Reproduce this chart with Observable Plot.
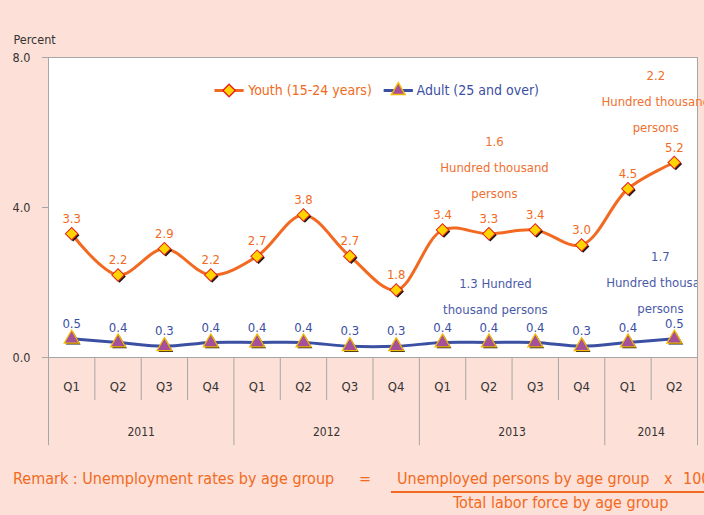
<!DOCTYPE html>
<html>
<head>
<meta charset="utf-8">
<script src="https://cdn.jsdelivr.net/npm/d3@7"></script>
<script src="https://cdn.jsdelivr.net/npm/@observablehq/plot@0.6"></script>
<style>
  html, body { margin: 0; padding: 0; background: #fde0d7; }
  #wrap { position: relative; width: 704px; height: 515px; overflow: hidden; background: #fde0d7;
          font-family: 'DejaVu Sans Condensed', 'DejaVu Sans', sans-serif; }
  #caption { position: absolute; left: 0; top: 460px; width: 704px; height: 55px; color: #f26a21; font-size: 16px; }
  #caption span { position: absolute; white-space: nowrap; line-height: 16px; }
  #frac { position: absolute; left: 391px; top: 31px; width: 320px; border-top: 2px solid #f26a21; }
</style>
</head>
<body>
<div id="wrap">
  <div id="chart"></div>
  <div id="caption">
    <span style="left:13px; top:11px;">Remark : Unemployment rates by age group</span>
    <span style="left:359px; top:11px;">=</span>
    <span style="left:397px; top:11px;">Unemployed persons by age group</span>
    <span style="left:664px; top:11px;">x</span>
    <span style="left:683px; top:11px;">100</span>
    <div id="frac"></div>
    <span style="left:453px; top:35px;">Total labor force by age group</span>
  </div>
</div>
<script>
// ---- data ----
const quarters = ["Q1","Q2","Q3","Q4","Q1","Q2","Q3","Q4","Q1","Q2","Q3","Q4","Q1","Q2"];
const years = ["2011","2012","2013","2014"];
const yearSpans = [4, 4, 4, 2];
const youth = [3.3, 2.2, 2.9, 2.2, 2.7, 3.8, 2.7, 1.8, 3.4, 3.3, 3.4, 3.0, 4.5, 5.2];
const adult = [0.5, 0.4, 0.3, 0.4, 0.4, 0.4, 0.3, 0.3, 0.4, 0.4, 0.4, 0.3, 0.4, 0.5];
const yTicks = [0, 4, 8];
const seriesNames = ["Youth (15-24 years)", "Adult (25 and over)"];
const youthNotes = [
  {at: 9.62, v: 5.07, text: "1.6\nHundred thousand\npersons"},
  {at: 13.1, v: 6.83, text: "2.2\nHundred thousand\npersons"}
];
const adultNotes = [
  {at: 9.64, v: 1.63, text: "1.3 Hundred\nthousand persons"},
  {at: 13.2, v: 2.0, text: "1.7\nHundred thousand\npersons"}
];

// ---- derived ----
const orange = "#f26a21", blue = "#3b4fa3", axisGray = "#a6a6a6", ink = "#333";
const pos = (d, i) => i + 0.5;
let start = 0;
const yearCells = years.map((y, k) => { const c = {label: y, mid: start + yearSpans[k] / 2, start}; start += yearSpans[k]; return c; });
const yearEdges = [...yearCells.map(c => c.start), quarters.length];
const quarterEdges = d3.range(1, quarters.length).filter(e => !yearEdges.includes(e));
const font = "'DejaVu Sans Condensed', 'DejaVu Sans', sans-serif";

// legend layout (in data units of the chart scales)
const legY = 7.12;
const legend = [
  {x1: 3.58, x2: 4.21, mid: 3.895, tx: 4.31, name: seriesNames[0], color: orange, sym: "square", rot: 45, fill: "#ffd400", stroke: "#e8231e"},
  {x1: 7.23, x2: 7.86, mid: 7.545, tx: 7.94, name: seriesNames[1], color: blue, sym: "triangle", rot: 0, fill: "#a4509a", stroke: "#f5b800"}
];

const chart = Plot.plot({
  width: 704,
  height: 460,
  marginTop: 57,
  marginBottom: 103,
  marginLeft: 48,
  marginRight: 7,
  style: {background: "transparent", fontFamily: font, fontSize: "12px", overflow: "visible"},
  x: {type: "linear", domain: [0, quarters.length], axis: null},
  y: {domain: [0, 8], axis: null},
  marks: [
    Plot.frame({fill: "white", stroke: axisGray}),
    // category separators
    Plot.ruleX(quarterEdges, {x: d => d, y1: 0, y2: -1.15, stroke: axisGray}),
    Plot.ruleX(yearEdges, {x: d => d, y1: 0, y2: -2.35, stroke: axisGray}),
    Plot.ruleX([0, quarters.length], {x: d => d, y1: 8, y2: 0, stroke: axisGray}),
    Plot.axisY({ticks: yTicks, tickFormat: d3.format(".1f"), tickSize: 6, tickPadding: 12, stroke: axisGray, color: ink, fontSize: 12.5, label: null}),
    Plot.text(["Percent"], {frameAnchor: "top-left", dx: -35, dy: -22, textAnchor: "start", fill: ink, fontSize: 12.5}),
    Plot.text(quarters, {x: pos, frameAnchor: "bottom", dy: 33, text: d => d, fill: ink, fontSize: 13}),
    Plot.text(yearCells, {x: "mid", frameAnchor: "bottom", dy: 78, text: "label", fill: ink, fontSize: 12}),
    // annotations
    Plot.text(youthNotes, {x: "at", y: "v", text: "text", fill: "#f07030", fontSize: 13, lineAnchor: "middle", lineHeight: 2.0, dy: -4}),
    Plot.text(adultNotes, {x: "at", y: "v", text: "text", fill: "#4a5aa8", fontSize: 13, lineAnchor: "middle", lineHeight: 2.0, dy: -4, clip: "frame"}),
    // legend
    Plot.link(legend, {x1: "x1", x2: "x2", y1: legY, y2: legY, stroke: "color", strokeWidth: 3}),
    Plot.dot(legend, {x: "mid", y: legY, symbol: "sym", rotate: "rot", r: 5, fill: "fill", stroke: "stroke"}),
    Plot.text(legend, {x: "tx", y: legY, text: "name", fill: "color", textAnchor: "start", fontSize: 14}),
    // adult series
    Plot.line(adult, {x: pos, y: d => d, stroke: blue, strokeWidth: 3, curve: "catmull-rom"}),
    Plot.dot(adult, {x: pos, y: d => d, symbol: "triangle", r: 5.5, fill: "#1a1a1a", dx: 1.5, dy: 1.5}),
    Plot.dot(adult, {x: pos, y: d => d, symbol: "triangle", r: 5.5, fill: "#a4509a", stroke: "#f5b800", strokeWidth: 1.3}),
    Plot.text(adult, {x: pos, y: d => d, text: d => d.toFixed(1), dy: -15, fill: blue, fontSize: 13}),
    // youth series
    Plot.line(youth, {x: pos, y: d => d, stroke: orange, strokeWidth: 3, curve: "catmull-rom"}),
    Plot.dot(youth, {x: pos, y: d => d, symbol: "square", rotate: 45, r: 5, fill: "#1a1a1a", dx: 1.5, dy: 1.5}),
    Plot.dot(youth, {x: pos, y: d => d, symbol: "square", rotate: 45, r: 5, fill: "#ffd400", stroke: "#e8231e", strokeWidth: 1}),
    Plot.text(youth, {x: pos, y: d => d, text: d => d.toFixed(1), dy: -15, fill: orange, fontSize: 13})
  ]
});
document.getElementById("chart").appendChild(chart);
</script>
</body>
</html>
